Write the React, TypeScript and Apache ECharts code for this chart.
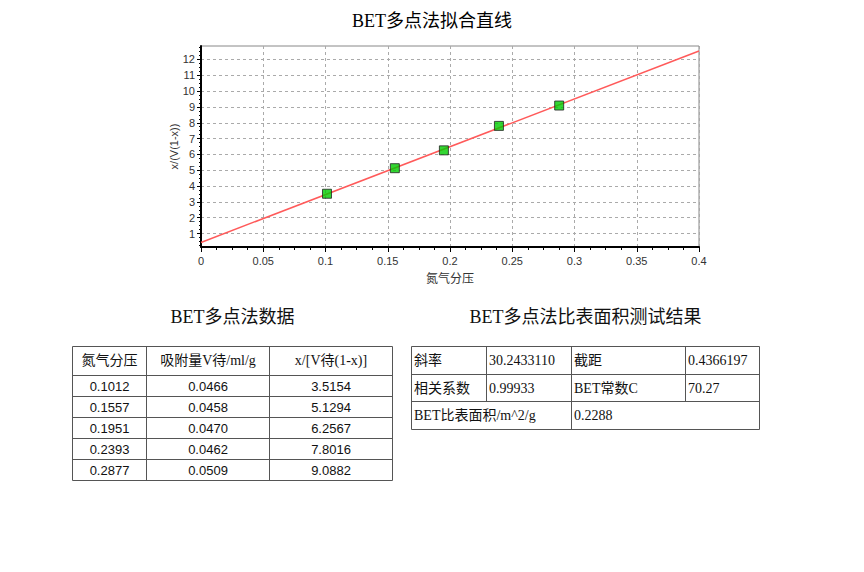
import React, { useEffect, useRef } from "react";
import * as echarts from "echarts";

// ---- data ----
const chartTitle = "BET多点法拟合直线";
const xAxisName = "氮气分压";
const yAxisName = "x/(V(1-x))";
const pressures = [0.1012, 0.1557, 0.1951, 0.2393, 0.2877];
const adsorbed = [0.0466, 0.0458, 0.047, 0.0462, 0.0509];
const betValues = [3.5154, 5.1294, 6.2567, 7.8016, 9.0882];
const fitX = [0, 0.4];
const fitY = [0.4366197, 12.5339];
const yTickValues = [1, 2, 3, 4, 5, 6, 7, 8, 9, 10, 11, 12];

const dataTitle = "BET多点法数据";
const dataHeaders = ["氮气分压", "吸附量V待/ml/g", "x/[V待(1-x)]"];
const resultTitle = "BET多点法比表面积测试结果";
const resultLabels = ["斜率", "截距", "相关系数", "BET常数C", "BET比表面积/m^2/g"];
const resultValues = ["30.2433110", "0.4366197", "0.99933", "70.27", "0.2288"];

const SERIF = "'Liberation Serif', 'Noto Sans CJK SC', serif";
const SANS = "'Liberation Sans', Arial, 'Noto Sans CJK SC', sans-serif";

function buildGraphics() {
  const g: any[] = [];
  const stroke = "#555";
  const ln = (x1: number, y1: number, x2: number, y2: number) => ({
    type: "line",
    silent: true,
    shape: { x1, y1, x2, y2 },
    style: { stroke, lineWidth: 1 },
  });
  const tx = (
    x: number,
    y: number,
    t: string,
    family: string,
    size: number,
    align: string
  ) => ({
    type: "text",
    silent: true,
    x,
    y,
    style: {
      text: t,
      fill: "#111",
      fontFamily: family,
      fontSize: size,
      align,
      verticalAlign: "middle",
    },
  });

  // table 1
  const c1 = [72.5, 146.5, 269.5, 392.5];
  const r1 = [346.5, 375.5, 396.5, 417.5, 438.5, 459.5, 480.5];
  g.push(tx((c1[0] + c1[3]) / 2, 317, dataTitle, SERIF, 18, "center"));
  r1.forEach((y) => g.push(ln(c1[0], y, c1[3], y)));
  c1.forEach((x) => g.push(ln(x, r1[0], x, r1[r1.length - 1])));
  dataHeaders.forEach((h, i) =>
    g.push(tx((c1[i] + c1[i + 1]) / 2, (r1[0] + r1[1]) / 2 - 1, h, SERIF, 14, "center"))
  );
  pressures.forEach((p, k) => {
    const cy = (r1[k + 1] + r1[k + 2]) / 2;
    const vals = [p.toFixed(4), adsorbed[k].toFixed(4), betValues[k].toFixed(4)];
    vals.forEach((v, i) =>
      g.push(tx((c1[i] + c1[i + 1]) / 2, cy, v, SANS, 13, "center"))
    );
  });

  // table 2
  const c2 = [411.5, 486.5, 571.5, 685.5, 759.5];
  const r2 = [346.5, 374.5, 401.5, 429.5];
  g.push(tx((c2[0] + c2[4]) / 2, 317, resultTitle, SERIF, 18, "center"));
  r2.forEach((y) => g.push(ln(c2[0], y, c2[4], y)));
  g.push(ln(c2[0], r2[0], c2[0], r2[3]));
  g.push(ln(c2[4], r2[0], c2[4], r2[3]));
  g.push(ln(c2[2], r2[0], c2[2], r2[3]));
  g.push(ln(c2[1], r2[0], c2[1], r2[2]));
  g.push(ln(c2[3], r2[0], c2[3], r2[2]));
  const pad = 2.5;
  const cyr = (k: number) => (r2[k] + r2[k + 1]) / 2;
  g.push(tx(c2[0] + pad, cyr(0), resultLabels[0], SERIF, 14, "left"));
  g.push(tx(c2[1] + pad, cyr(0), resultValues[0], SERIF, 14, "left"));
  g.push(tx(c2[2] + pad, cyr(0), resultLabels[1], SERIF, 14, "left"));
  g.push(tx(c2[3] + pad, cyr(0), resultValues[1], SERIF, 14, "left"));
  g.push(tx(c2[0] + pad, cyr(1), resultLabels[2], SERIF, 14, "left"));
  g.push(tx(c2[1] + pad, cyr(1), resultValues[2], SERIF, 14, "left"));
  g.push(tx(c2[2] + pad, cyr(1), resultLabels[3], SERIF, 14, "left"));
  g.push(tx(c2[3] + pad, cyr(1), resultValues[3], SERIF, 14, "left"));
  g.push(tx(c2[0] + pad, cyr(2), resultLabels[4], SERIF, 14, "left"));
  g.push(tx(c2[2] + pad, cyr(2), resultValues[4], SERIF, 14, "left"));
  return g;
}

export default function App() {
  const ref = useRef<HTMLDivElement>(null);
  useEffect(() => {
    if (!ref.current) return;
    const chart = echarts.init(ref.current, undefined, { renderer: "svg" });
    const axisLabelStyle = { color: "#333", fontFamily: SANS, fontSize: 11 };
    chart.setOption({
      animation: false,
      backgroundColor: "#fff",
      title: {
        text: chartTitle,
        left: "center",
        top: 7,
        textStyle: { fontFamily: SERIF, fontSize: 18, fontWeight: "normal", color: "#000" },
      },
      grid: {
        left: 201,
        right: 165,
        top: 46,
        bottom: 325,
        show: true,
        borderColor: "#888",
        borderWidth: 1,
        backgroundColor: "#fff",
      },
      xAxis: {
        type: "value",
        min: 0,
        max: 0.4,
        interval: 0.05,
        name: xAxisName,
        nameLocation: "middle",
        nameGap: 26,
        nameMoveOverlap: false,
        nameTextStyle: { color: "#333", fontFamily: SANS, fontSize: 12 },
        axisLine: { show: true, onZero: false, lineStyle: { color: "#000", width: 2 } },
        axisTick: { show: true, length: 5, lineStyle: { color: "#000" } },
        minorTick: { show: true, splitNumber: 4, length: 3, lineStyle: { color: "#000" } },
        axisLabel: { ...axisLabelStyle, margin: 8 },
        splitLine: { show: true, lineStyle: { color: "#aaa", type: [3, 3], width: 1 } },
      },
      yAxis: {
        type: "value",
        min: 0.15,
        max: 12.85,
        splitNumber: 13,
        name: yAxisName,
        nameLocation: "middle",
        nameGap: 22,
        nameMoveOverlap: false,
        nameTextStyle: { color: "#333", fontFamily: SANS, fontSize: 11 },
        axisLine: { show: true, onZero: false, lineStyle: { color: "#000", width: 2 } },
        axisTick: { show: true, length: 4, customValues: yTickValues, lineStyle: { color: "#000" } },
        minorTick: { show: true, splitNumber: 4, length: 2, lineStyle: { color: "#000" } },
        axisLabel: { ...axisLabelStyle, margin: 6, customValues: yTickValues },
        splitLine: { show: true, lineStyle: { color: "#aaa", type: [3, 3], width: 1 } },
      },
      series: [
        {
          type: "line",
          data: fitX.map((x, i) => [x, fitY[i]]),
          symbol: "none",
          lineStyle: { color: "#ff5a5a", width: 1.5 },
          silent: true,
          z: 2,
        },
        {
          type: "scatter",
          data: pressures.map((x, i) => [x, betValues[i]]),
          symbol: "rect",
          symbolSize: 9,
          itemStyle: { color: "#00cc00", borderColor: "#222", borderWidth: 1 },
          z: 3,
        },
      ],
      graphic: buildGraphics(),
    });
    return () => chart.dispose();
  }, []);
  return (
    <div
      ref={ref}
      style={{ position: "absolute", left: 0, top: 0, width: 864, height: 572, background: "#fff" }}
    />
  );
}
